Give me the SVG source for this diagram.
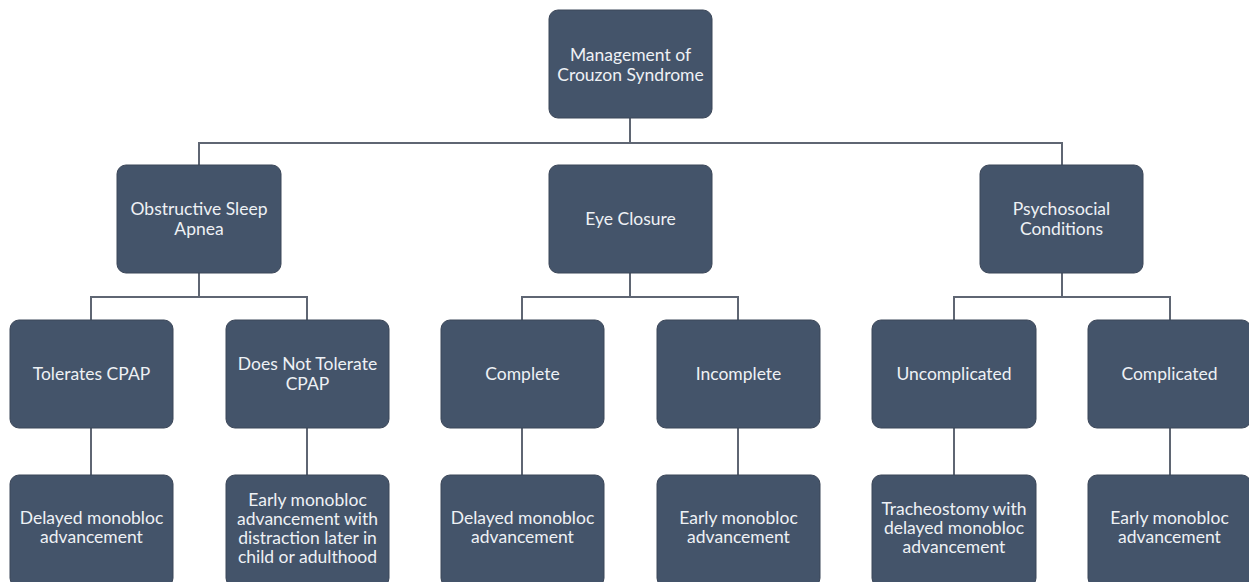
<svg xmlns="http://www.w3.org/2000/svg" width="1249" height="582" viewBox="0 0 1249 582">
<style>
.box{fill:#44546a;stroke:#3b4658;stroke-width:1}
.t{font-family:Lato,"Open Sans",sans-serif;font-size:17.5px;fill:#eef1f5;text-anchor:middle}
.c{fill:none;stroke:#5f6673;stroke-width:2}
</style>
<rect width="1249" height="582" fill="#ffffff"/>
<g id="connectors">
<path class="c" d="M630 118V143M199 165V143H1062V165"/>
<path class="c" d="M199 273V297M91 320V297H307V320"/>
<path class="c" d="M630 273V297M522 320V297H738V320"/>
<path class="c" d="M1062 273V297M954 320V297H1170V320"/>
<path class="c" d="M91 428V475M307 428V475M522 428V475M738 428V475M954 428V475M1170 428V475"/>
</g>
<g id="root"><rect class="box" x="549" y="10" width="163" height="108" rx="9"/><text class="t" x="630.5" y="61">Management of</text><text class="t" x="630.5" y="81">Crouzon Syndrome</text></g>
<g id="osa"><rect class="box" x="117" y="165" width="164" height="108" rx="9"/><text class="t" x="199" y="215">Obstructive Sleep</text><text class="t" x="199" y="235">Apnea</text></g>
<g id="eye"><rect class="box" x="549" y="165" width="163" height="108" rx="9"/><text class="t" x="630.5" y="225">Eye Closure</text></g>
<g id="psych"><rect class="box" x="980" y="165" width="163" height="108" rx="9"/><text class="t" x="1061.5" y="215">Psychosocial</text><text class="t" x="1061.5" y="235">Conditions</text></g>
<g id="tolerates"><rect class="box" x="10" y="320" width="163" height="108" rx="9"/><text class="t" x="91.5" y="380">Tolerates CPAP</text></g>
<g id="notolerate"><rect class="box" x="226" y="320" width="163" height="108" rx="9"/><text class="t" x="307.5" y="370">Does Not Tolerate</text><text class="t" x="307.5" y="390">CPAP</text></g>
<g id="complete"><rect class="box" x="441" y="320" width="163" height="108" rx="9"/><text class="t" x="522.5" y="380">Complete</text></g>
<g id="incomplete"><rect class="box" x="657" y="320" width="163" height="108" rx="9"/><text class="t" x="738.5" y="380">Incomplete</text></g>
<g id="uncomplicated"><rect class="box" x="872" y="320" width="164" height="108" rx="9"/><text class="t" x="954" y="380">Uncomplicated</text></g>
<g id="complicated"><rect class="box" x="1088" y="320" width="163" height="108" rx="9"/><text class="t" x="1169.5" y="380">Complicated</text></g>
<g id="delayed1"><rect class="box" x="10" y="475" width="163" height="112" rx="9"/><text class="t" x="91.5" y="524">Delayed monobloc</text><text class="t" x="91.5" y="543">advancement</text></g>
<g id="early1"><rect class="box" x="226" y="475" width="163" height="112" rx="9"/><text class="t" x="307.5" y="506">Early monobloc</text><text class="t" x="307.5" y="525">advancement with</text><text class="t" x="307.5" y="544">distraction later in</text><text class="t" x="307.5" y="563">child or adulthood</text></g>
<g id="delayed2"><rect class="box" x="441" y="475" width="163" height="112" rx="9"/><text class="t" x="522.5" y="524">Delayed monobloc</text><text class="t" x="522.5" y="543">advancement</text></g>
<g id="early2"><rect class="box" x="657" y="475" width="163" height="112" rx="9"/><text class="t" x="738.5" y="524">Early monobloc</text><text class="t" x="738.5" y="543">advancement</text></g>
<g id="trach"><rect class="box" x="872" y="475" width="164" height="112" rx="9"/><text class="t" x="954" y="515">Tracheostomy with</text><text class="t" x="954" y="534">delayed monobloc</text><text class="t" x="954" y="553">advancement</text></g>
<g id="early3"><rect class="box" x="1088" y="475" width="163" height="112" rx="9"/><text class="t" x="1169.5" y="524">Early monobloc</text><text class="t" x="1169.5" y="543">advancement</text></g>
</svg>
